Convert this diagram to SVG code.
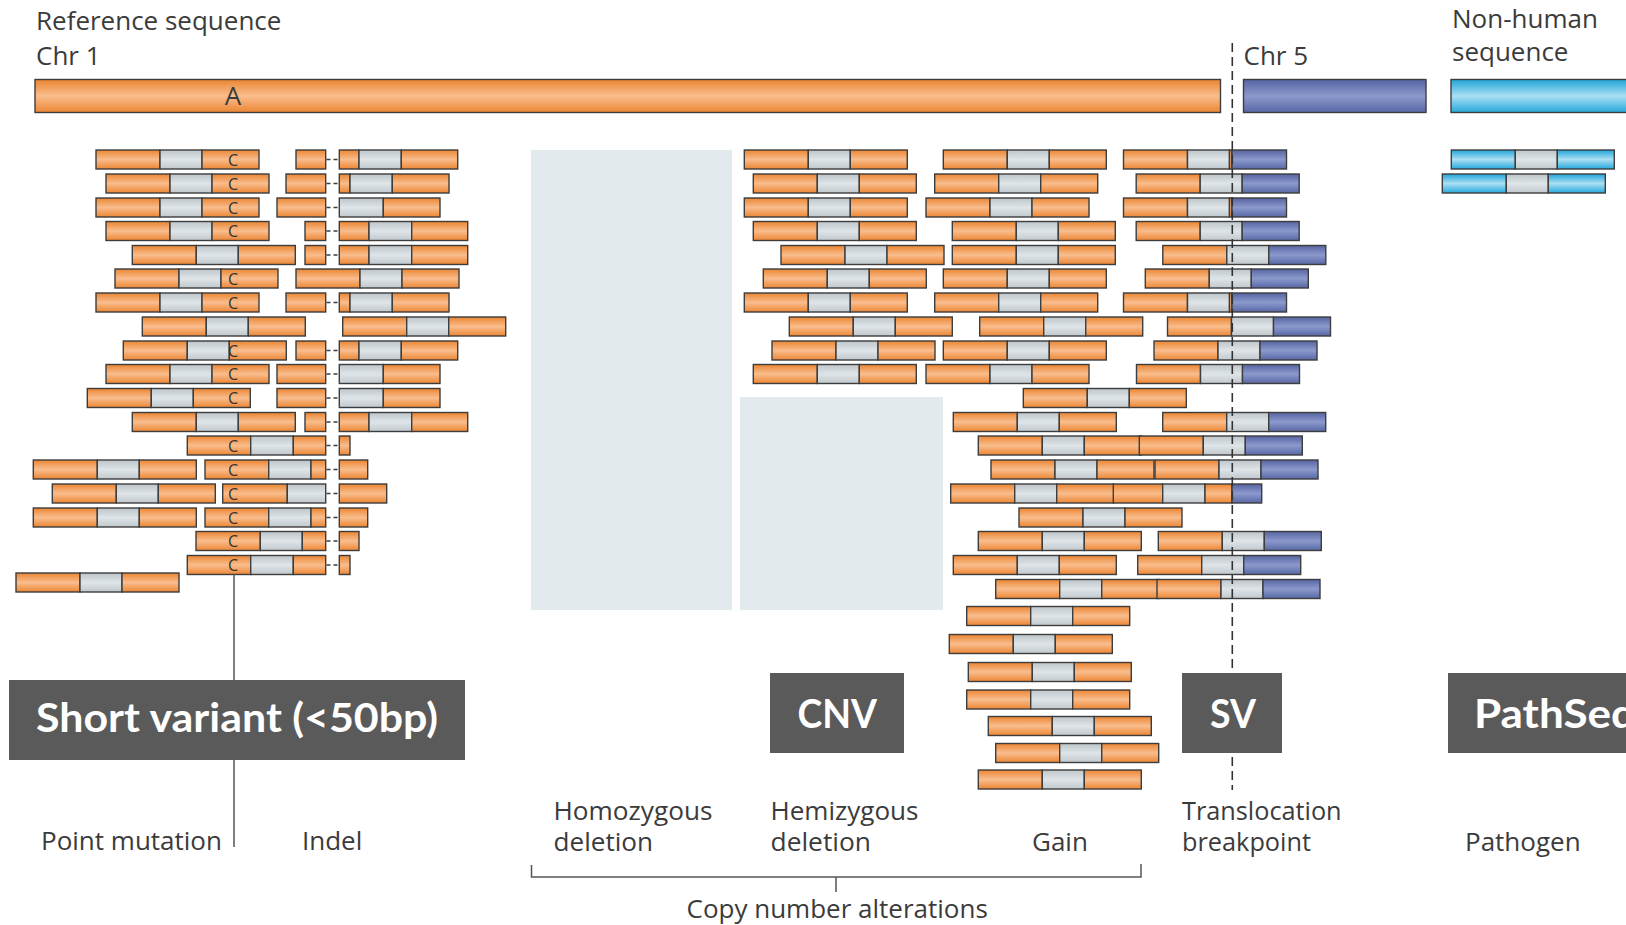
<svg xmlns="http://www.w3.org/2000/svg" xmlns:xlink="http://www.w3.org/1999/xlink" width="1626" height="925" viewBox="0 0 1626 925">
<style>
.o{fill:url(#gO);stroke:#3d3d3d;stroke-width:1.4}
.g{fill:url(#gG);stroke:#3d3d3d;stroke-width:1.4}
.b{fill:url(#gB);stroke:#3d3d3d;stroke-width:1.4}
.c{fill:url(#gC);stroke:#3d3d3d;stroke-width:1.4}
.dl{stroke:#3d3d3d;stroke-width:1.5;stroke-dasharray:4 3}
.lbl{font-family:"Open Sans","Noto Sans",sans-serif;font-size:26px;fill:#3b3b3b}
.l2{font-family:"Open Sans","Noto Sans",sans-serif;font-size:25px;fill:#3b3b3b}
.cc{font-family:"Open Sans","Noto Sans",sans-serif;font-size:16px;fill:#333;text-anchor:middle}
.box{fill:#5a5a5a}
.ttl{font-family:Lato,"Open Sans",sans-serif;font-weight:700;font-size:40px;fill:#fff}
.del{fill:#e2eaed}
.ln{stroke:#555;stroke-width:1.5;fill:none}
</style>
<defs>
<linearGradient id="gO" x1="0" y1="0" x2="0" y2="1"><stop offset="0" stop-color="#eb8532"/><stop offset="0.5" stop-color="#f9bd8d"/><stop offset="1" stop-color="#ec8634"/></linearGradient>
<linearGradient id="gG" x1="0" y1="0" x2="0" y2="1"><stop offset="0" stop-color="#bec6cb"/><stop offset="0.5" stop-color="#dee4e7"/><stop offset="1" stop-color="#c2c9ce"/></linearGradient>
<linearGradient id="gB" x1="0" y1="0" x2="0" y2="1"><stop offset="0" stop-color="#5565a2"/><stop offset="0.5" stop-color="#8b99cc"/><stop offset="1" stop-color="#5868a5"/></linearGradient>
<linearGradient id="gC" x1="0" y1="0" x2="0" y2="1"><stop offset="0" stop-color="#1fa5d8"/><stop offset="0.5" stop-color="#aadff4"/><stop offset="1" stop-color="#26a9db"/></linearGradient>
<g id="rd"><rect class="o" x="0" width="64" height="19"/><rect class="g" x="64" width="42" height="19"/><rect class="o" x="106" width="57" height="19"/></g>
<g id="sv"><rect class="o" x="0" width="64" height="19"/><rect class="g" x="64" width="42" height="19"/><rect class="b" x="106" width="57" height="19"/></g>
<g id="svx"><rect class="o" x="0" width="64" height="19"/><rect class="g" x="64" width="42" height="19"/><rect class="o" x="106" width="2.5" height="19"/><rect class="b" x="108.5" width="54.5" height="19"/></g>
<g id="nh"><rect class="c" x="0" width="64" height="19"/><rect class="g" x="64" width="42" height="19"/><rect class="c" x="106" width="57" height="19"/></g>
<g id="i0"><rect class="o" x="296" width="29.7" height="19"/><line class="dl" x1="326.5" y1="9.5" x2="339" y2="9.5"/><rect class="o" x="339.3" width="19.7" height="19"/><rect class="g" x="359" width="42.3" height="19"/><rect class="o" x="401.3" width="56.4" height="19"/></g>
<g id="i1"><rect class="o" x="286" width="39.7" height="19"/><line class="dl" x1="326.5" y1="9.5" x2="339" y2="9.5"/><rect class="o" x="339.3" width="10.7" height="19"/><rect class="g" x="350" width="42.3" height="19"/><rect class="o" x="392.3" width="56.7" height="19"/></g>
<g id="i2"><rect class="o" x="277" width="48.7" height="19"/><line class="dl" x1="326.5" y1="9.5" x2="339" y2="9.5"/><rect class="g" x="339.3" width="44" height="19"/><rect class="o" x="383.3" width="56.7" height="19"/></g>
<g id="i3"><rect class="o" x="305" width="20.7" height="19"/><line class="dl" x1="326.5" y1="9.5" x2="339" y2="9.5"/><rect class="o" x="339.3" width="29.7" height="19"/><rect class="g" x="369" width="42.7" height="19"/><rect class="o" x="411.7" width="56" height="19"/></g>
<g id="pA"><rect class="o" x="187.3" width="63.4" height="19"/><rect class="g" x="250.7" width="42.6" height="19"/><rect class="o" x="293.3" width="32.4" height="19"/><line class="dl" x1="326.5" y1="9.5" x2="339" y2="9.5"/><rect class="o" x="339.3" width="10.7" height="19"/><text class="cc" x="233" y="15.5">C</text></g>
<g id="pB"><rect class="o" x="205" width="63.7" height="19"/><rect class="g" x="268.7" width="42.3" height="19"/><rect class="o" x="311" width="14.7" height="19"/><line class="dl" x1="326.5" y1="9.5" x2="339" y2="9.5"/><rect class="o" x="339.3" width="28.4" height="19"/><text class="cc" x="233" y="15.5">C</text></g>
</defs>
<rect width="1626" height="925" fill="#fff"/>

<g id="reference">
<text class="lbl" x="36" y="30">Reference sequence</text>
<text class="lbl" x="36" y="65">Chr 1</text>
<rect class="o" x="35" y="79.5" width="1185.5" height="33"/>
<text class="lbl" x="233" y="105" text-anchor="middle">A</text>
<text class="lbl" x="1243.5" y="65">Chr 5</text>
<rect class="b" x="1243.5" y="79.5" width="182.5" height="33"/>
<text class="lbl" x="1452" y="28">Non-human</text>
<text class="lbl" x="1452" y="61">sequence</text>
<rect class="c" x="1451" y="79.5" width="200" height="33"/>
</g>

<g id="deletions">
<rect class="del" x="531" y="150" width="201" height="460"/>
<rect class="del" x="740" y="397" width="203" height="213"/>
</g>

<g id="point-mutation-reads">
<use href="#rd" x="96" y="150"/><use href="#rd" x="106" y="174"/><use href="#rd" x="96" y="198"/><use href="#rd" x="106" y="221.5"/>
<use href="#rd" x="132.3" y="245.5"/><use href="#rd" x="115" y="269"/><use href="#rd" x="96" y="293"/><use href="#rd" x="142.3" y="317"/>
<use href="#rd" x="123.3" y="341"/><use href="#rd" x="106" y="364.5"/><use href="#rd" x="87.3" y="388.5"/><use href="#rd" x="132.3" y="412.5"/>
<use href="#pA" y="436"/>
<use href="#rd" x="33.3" y="460"/><use href="#pB" y="460"/>
<use href="#rd" x="52.3" y="484"/>
<g transform="translate(0,484)"><rect class="o" x="222.7" width="64.6" height="19"/><rect class="g" x="287.3" width="38.4" height="19"/><line class="dl" x1="326.5" y1="9.5" x2="339" y2="9.5"/><rect class="o" x="339.3" width="47.4" height="19"/><text class="cc" x="233" y="15.5">C</text></g>
<use href="#rd" x="33.3" y="508"/><use href="#pB" y="508"/>
<g transform="translate(0,531.5)"><rect class="o" x="196" width="64.3" height="19"/><rect class="g" x="260.3" width="42" height="19"/><rect class="o" x="302.3" width="23.4" height="19"/><line class="dl" x1="326.5" y1="9.5" x2="339" y2="9.5"/><rect class="o" x="339.3" width="19.7" height="19"/><text class="cc" x="233" y="15.5">C</text></g>
<use href="#pA" y="555.5"/>
<use href="#rd" x="16" y="573"/>
<text class="cc" x="233" y="165.5">C</text><text class="cc" x="233" y="189.5">C</text><text class="cc" x="233" y="213.5">C</text><text class="cc" x="233" y="237">C</text>
<text class="cc" x="233" y="284.5">C</text><text class="cc" x="233" y="308.5">C</text><text class="cc" x="233" y="356.5">C</text><text class="cc" x="233" y="380">C</text><text class="cc" x="233" y="404">C</text>
</g>

<g id="indel-reads">
<use href="#i0" y="150"/><use href="#i1" y="174"/><use href="#i2" y="198"/><use href="#i3" y="221.5"/><use href="#i3" y="245.5"/>
<use href="#rd" x="296" y="269"/><use href="#i1" y="293"/><use href="#rd" x="342.7" y="317"/>
<use href="#i0" y="341"/><use href="#i2" y="364.5"/><use href="#i2" y="388.5"/><use href="#i3" y="412.5"/>
</g>

<g id="hemizygous-reads">
<use href="#rd" x="744.3" y="150"/><use href="#rd" x="753.3" y="174"/><use href="#rd" x="744.3" y="198"/><use href="#rd" x="753.3" y="221.5"/>
<use href="#rd" x="781" y="245.5"/><use href="#rd" x="763.3" y="269"/><use href="#rd" x="744.3" y="293"/><use href="#rd" x="789.3" y="317"/>
<use href="#rd" x="772" y="341"/><use href="#rd" x="753.3" y="364.5"/>
</g>

<g id="gain-reads">
<use href="#rd" x="943.3" y="150"/><use href="#rd" x="934.7" y="174"/><use href="#rd" x="926" y="198"/><use href="#rd" x="952.3" y="221.5"/>
<use href="#rd" x="952.3" y="245.5"/><use href="#rd" x="943.3" y="269"/><use href="#rd" x="934.7" y="293"/><use href="#rd" x="979.7" y="317"/>
<use href="#rd" x="943.3" y="341"/><use href="#rd" x="926" y="364.5"/><use href="#rd" x="1023.3" y="388.5"/><use href="#rd" x="953.3" y="412.5"/>
<use href="#rd" x="978.3" y="436"/><use href="#rd" x="991" y="460"/><use href="#rd" x="950.7" y="484"/><use href="#rd" x="1019" y="508"/>
<use href="#rd" x="978.3" y="531.5"/><use href="#rd" x="953.3" y="555.5"/><use href="#rd" x="995.7" y="579.5"/>
<use href="#rd" x="966.7" y="606.5"/><use href="#rd" x="949.3" y="634.5"/><use href="#rd" x="968.3" y="662.5"/><use href="#rd" x="966.7" y="690"/>
<use href="#rd" x="988.3" y="716.5"/><use href="#rd" x="995.7" y="743.5"/><use href="#rd" x="978.3" y="770"/>
</g>

<g id="sv-reads">
<use href="#svx" x="1123.5" y="150"/><use href="#sv" x="1136.2" y="174"/><use href="#svx" x="1123.5" y="198"/><use href="#sv" x="1136.2" y="221.5"/>
<use href="#sv" x="1162.8" y="245.5"/><use href="#sv" x="1145.3" y="269"/><use href="#svx" x="1123.5" y="293"/><use href="#sv" x="1167.5" y="317"/>
<use href="#sv" x="1154" y="341"/><use href="#sv" x="1136.5" y="364.5"/><use href="#sv" x="1162.7" y="412.5"/>
<use href="#sv" x="1139.3" y="436"/><use href="#sv" x="1155" y="460"/>
<g transform="translate(0,484)"><rect class="o" x="1113.3" width="49.4" height="19"/><rect class="g" x="1162.7" width="42.3" height="19"/><rect class="o" x="1205" width="27" height="19"/><rect class="b" x="1232" width="29.7" height="19"/></g>
<use href="#sv" x="1158.3" y="531.5"/><use href="#sv" x="1137.7" y="555.5"/><use href="#sv" x="1157" y="579.5"/>
</g>

<g id="nonhuman-reads">
<use href="#nh" x="1451.3" y="150"/><use href="#nh" x="1442.3" y="174"/>
</g>

<g id="connectors">
<line x1="1232.3" y1="43" x2="1232.3" y2="790" stroke="#333" stroke-width="1.6" stroke-dasharray="9 5"/>
<path class="ln" d="M234 574.5V680M234 760V847"/>
<path class="ln" d="M531.5 865V877H1141V864M836 877V892"/>
</g>

<g id="node-short-variant">
<rect class="box" x="9" y="680" width="456" height="80"/>
<text class="ttl" x="36" y="732" textLength="402" lengthAdjust="spacingAndGlyphs">Short variant (&lt;50bp)</text>
</g>
<g id="node-cnv">
<rect class="box" x="770" y="673" width="134" height="80"/>
<text class="ttl" x="797.5" y="728" textLength="79.5" lengthAdjust="spacingAndGlyphs">CNV</text>
</g>
<g id="node-sv">
<rect class="box" x="1182" y="673" width="100" height="80"/>
<text class="ttl" x="1210" y="728" textLength="46" lengthAdjust="spacingAndGlyphs">SV</text>
</g>
<g id="node-pathseq">
<rect class="box" x="1448" y="673" width="200" height="80"/>
<text class="ttl" x="1474" y="728" textLength="162" lengthAdjust="spacingAndGlyphs">PathSeq</text>
</g>

<g id="labels">
<text class="lbl" x="41" y="850">Point mutation</text>
<text class="lbl" x="302" y="850">Indel</text>
<text class="l2" x="553.5" y="819.5" textLength="159" lengthAdjust="spacingAndGlyphs">Homozygous</text>
<text class="l2" x="553.5" y="851" textLength="99.5" lengthAdjust="spacingAndGlyphs">deletion</text>
<text class="l2" x="770.5" y="819.5" textLength="148" lengthAdjust="spacingAndGlyphs">Hemizygous</text>
<text class="l2" x="770.5" y="851" textLength="100.5" lengthAdjust="spacingAndGlyphs">deletion</text>
<text class="lbl" x="1032" y="851">Gain</text>
<text class="l2" x="1182" y="819.5" textLength="159.6" lengthAdjust="spacingAndGlyphs">Translocation</text>
<text class="l2" x="1182" y="851" textLength="129" lengthAdjust="spacingAndGlyphs">breakpoint</text>
<text class="lbl" x="1465" y="851">Pathogen</text>
<text class="lbl" x="686.5" y="918">Copy number alterations</text>
</g>
</svg>
